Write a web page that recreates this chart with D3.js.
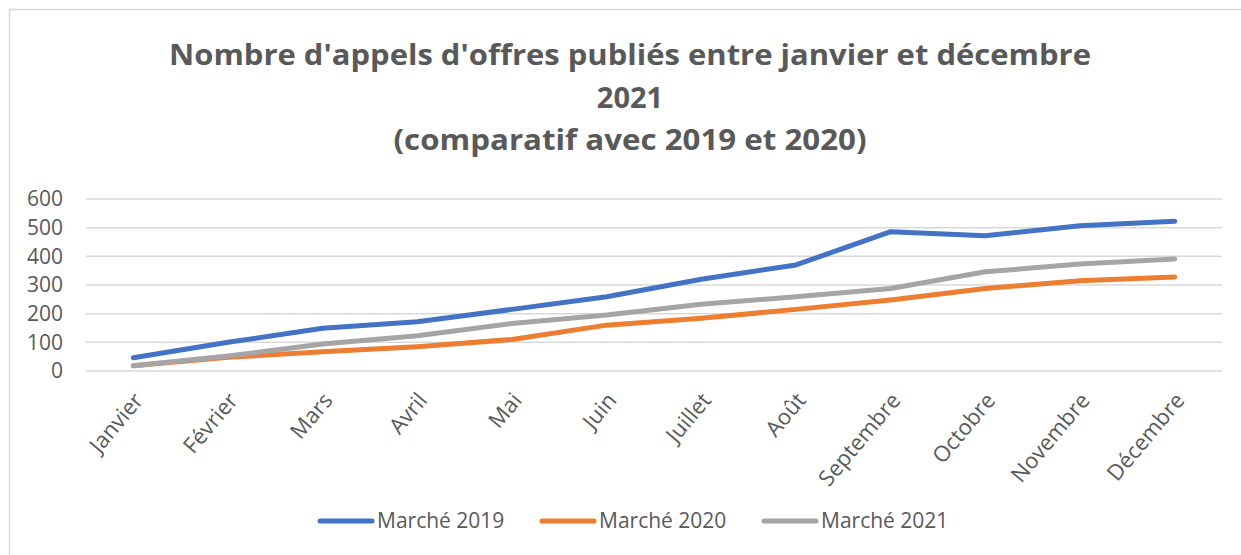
<!DOCTYPE html>
<html>
<head>
<meta charset="utf-8">
<script src="https://cdnjs.cloudflare.com/ajax/libs/d3/7.8.5/d3.min.js"></script>
<style>
  body { margin: 0; background: #fff; }
  svg { display: block; font-family: "Open Sans", "Liberation Sans", sans-serif; }
</style>
</head>
<body>
<svg id="chart" width="1241" height="555"></svg>
<script>
// months on x axis
var mois = ["Janvier", "Février", "Mars", "Avril", "Mai", "Juin", "Juillet",
    "Août", "Septembre", "Octobre", "Novembre", "Décembre"];

// values
var marche2019 = [46, 100, 149, 172, 215, 259, 320, 370, 486, 472, 507, 522];
var marche2020 = [18, 48, 67, 85, 110, 160, 184, 215, 248, 288, 315, 328];
var marche2021 = [18, 52, 94, 123, 166, 195, 233, 259, 288, 346, 373, 391];

var seriesNames = ["Marché 2019", "Marché 2020", "Marché 2021"];
var yTicks = [0, 100, 200, 300, 400, 500, 600];
var titleLines = ["Nombre d'appels d'offres publiés entre janvier et décembre",
    "2021", "(comparatif avec 2019 et 2020)"];

var colors = ["#4472C4", "#ED7D31", "#A5A5A5"];
var textColor = "#595959";
var gridColor = "#D9D9D9";

var svg = d3.select("#chart");

// outer chart border (only top and left visible in the picture)
svg.append("rect")
    .attr("x", 9.5).attr("y", 9.5)
    .attr("width", 1400).attr("height", 700)
    .attr("fill", "none")
    .attr("stroke", gridColor)
    .attr("stroke-width", 1.5);

// title, widths stretched a bit to match the Calibri look
var titleY = [65, 108, 150];
var titleW = [922, null, 473];
svg.selectAll("text.title")
    .data(titleLines)
    .enter().append("text")
    .attr("class", "title")
    .attr("x", 630)
    .attr("y", (d, i) => titleY[i])
    .attr("text-anchor", "middle")
    .attr("fill", textColor)
    .attr("font-size", "29px")
    .attr("font-weight", "bold")
    .each(function (d, i) {
        if (titleW[i]) {
            d3.select(this)
                .attr("textLength", titleW[i])
                .attr("lengthAdjust", "spacingAndGlyphs");
        }
    })
    .text(d => d);

// scales
var x = d3.scalePoint()
    .domain(mois)
    .range([86, 1222])
    .padding(0.5);

var y = d3.scaleLinear()
    .domain([0, 600])
    .range([371, 199]);

// horizontal grid lines
svg.append("g")
    .selectAll("line")
    .data(yTicks)
    .enter().append("line")
    .attr("x1", 86).attr("x2", 1222)
    .attr("y1", d => y(d)).attr("y2", d => y(d))
    .attr("stroke", gridColor)
    .attr("stroke-width", 1.5);

// y axis labels
var yAxis = d3.axisLeft(y).tickValues(yTicks).tickSize(0).tickPadding(0);
var yg = svg.append("g")
    .attr("transform", "translate(63,0)")
    .call(yAxis);
yg.select(".domain").remove();
yg.selectAll("text")
    .attr("fill", textColor)
    .attr("font-size", "21px")
    .attr("font-family", "Open Sans");

// x axis labels, rotated
svg.append("g")
    .selectAll("text")
    .data(mois)
    .enter().append("text")
    .attr("transform", d => "translate(" + (x(d) + 11) + ",401) rotate(-50)")
    .attr("text-anchor", "end")
    .attr("fill", textColor)
    .attr("font-size", "22px")
    .text(d => d);

// lines
var allSeries = [marche2019, marche2020, marche2021];
var line = d3.line()
    .x((d, i) => x(mois[i]))
    .y(d => y(d));

svg.append("g")
    .selectAll("path")
    .data(allSeries)
    .enter().append("path")
    .attr("d", d => line(d))
    .attr("fill", "none")
    .attr("stroke", (d, i) => colors[i])
    .attr("stroke-width", 5)
    .attr("stroke-linecap", "round")
    .attr("stroke-linejoin", "round");

// legend
var legendX = [318, 540, 762];
var legendY = 521;
var leg = svg.append("g")
    .selectAll("g")
    .data(seriesNames)
    .enter().append("g")
    .attr("transform", (d, i) => "translate(" + legendX[i] + "," + legendY + ")");

leg.append("line")
    .attr("x1", 2).attr("x2", 54)
    .attr("y1", 0).attr("y2", 0)
    .attr("stroke", (d, i) => colors[i])
    .attr("stroke-width", 5)
    .attr("stroke-linecap", "round");

leg.append("text")
    .attr("x", 59)
    .attr("y", 0)
    .attr("dy", "0.35em")
    .attr("fill", textColor)
    .attr("font-size", "21px")
    .text(d => d);
</script>
</body>
</html>
